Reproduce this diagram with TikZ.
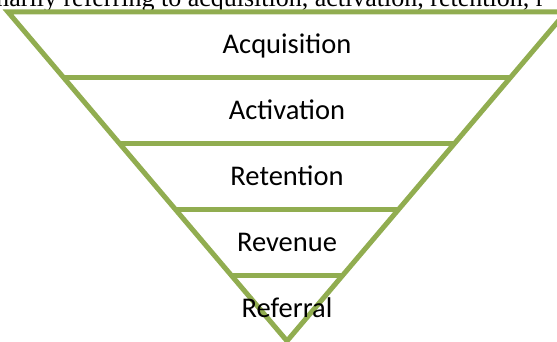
\documentclass[tikz,border=0pt]{standalone}
\usepackage{fontspec}
\setmainfont{Liberation Serif}
\newfontfamily\stagefont{Carlito}
\usetikzlibrary{calc}
\definecolor{funnelgreen}{RGB}{145,173,80}

\begin{document}
\begin{tikzpicture}[x=1pt,y=-1pt]
\useasboundingbox (0,0) rectangle (557,342);
\clip (0,0) rectangle (557,342);
% running text, cut off at the top
\node[anchor=base west,inner sep=0pt,font=\fontsize{26}{30}\selectfont] (runningtext) at (-11,7) {marily referring to acquisition, activation, retention, r};
% funnel outline and the four dividers
\coordinate (topleft) at (8,12);
\coordinate (topright) at (566,12);
\coordinate (tip) at (287,341);
\filldraw[fill=white,draw=funnelgreen,line width=5pt] (topleft) -- (topright) -- (tip) -- cycle;
\foreach \t in {0.2,0.4,0.6,0.8}
  \draw[funnelgreen,line width=5pt] ($(topleft)!\t!(tip)$) -- ($(topright)!\t!(tip)$);
% stage names
\foreach \stage [count=\i] in {Acquisition,Activation,Retention,Revenue,Referral}
  \node[anchor=base,inner sep=0pt,font=\stagefont\fontsize{28.5}{34}\selectfont] (stage\i) at (287,{12+65.8*(\i-0.5)+9}) {\stage};
\end{tikzpicture}
\end{document}
